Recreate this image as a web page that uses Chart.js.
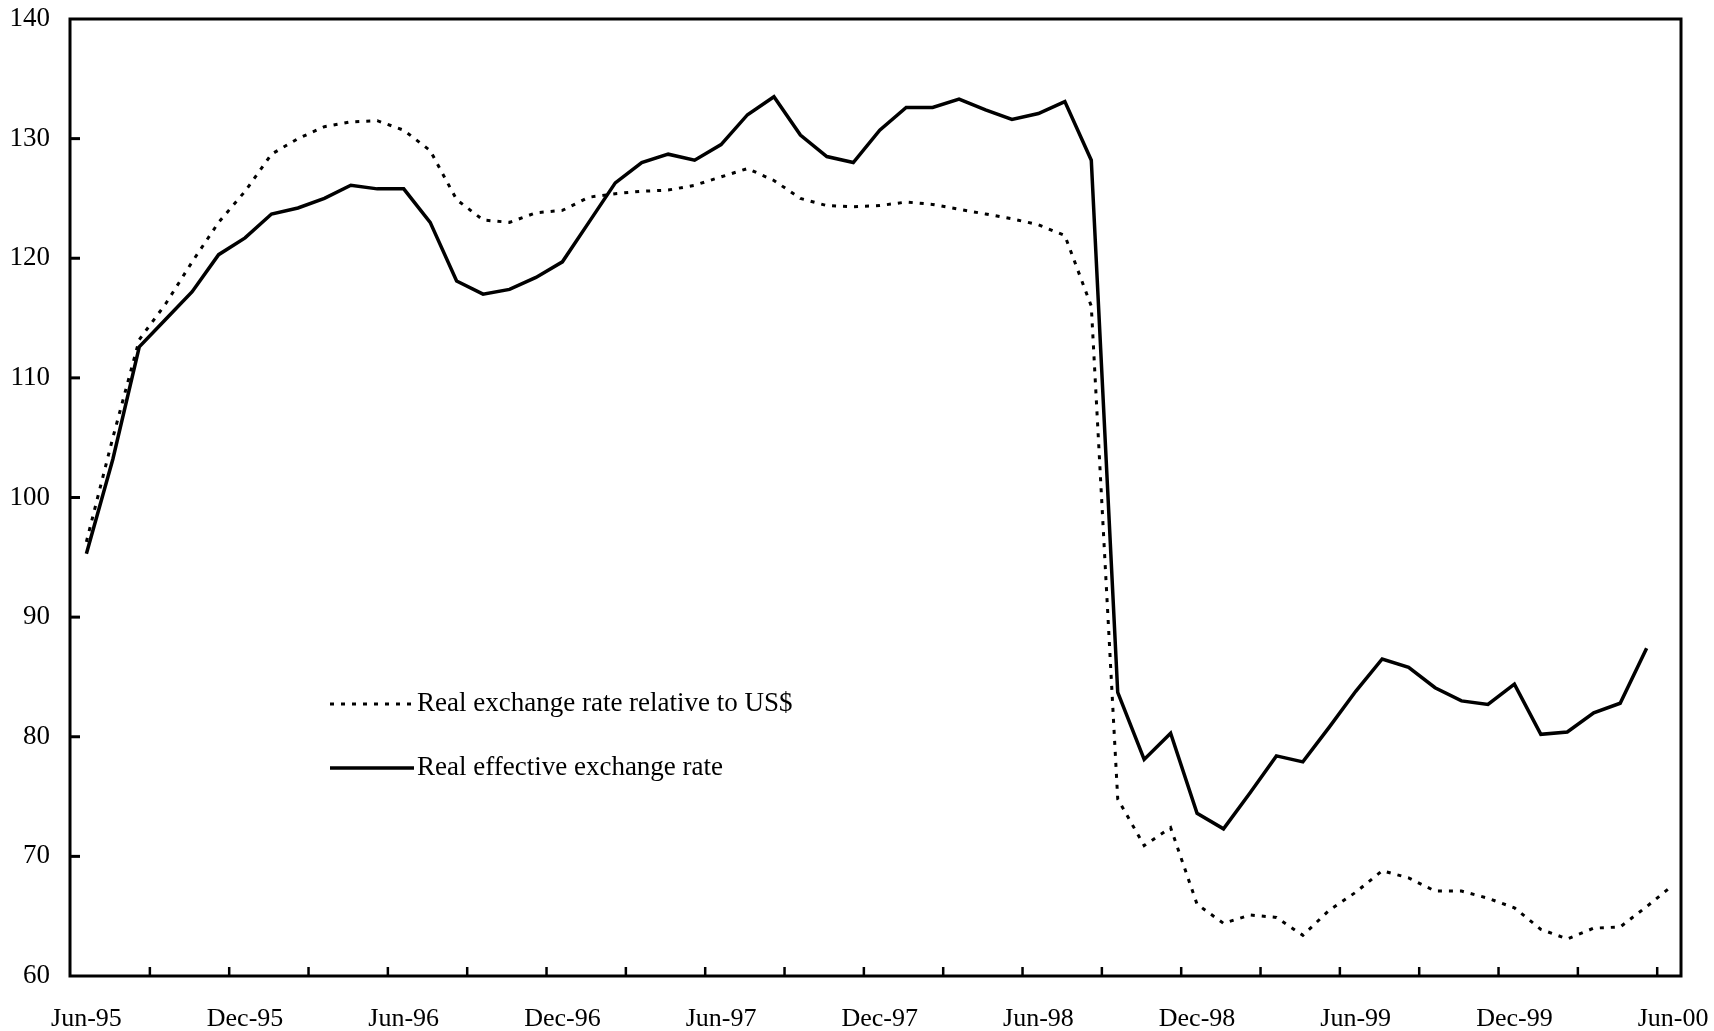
<!DOCTYPE html>
<html>
<head>
<meta charset="utf-8">
<script src="https://cdn.jsdelivr.net/npm/chart.js@4.4.0/dist/chart.umd.min.js"></script>
<style>
html, body { margin: 0; padding: 0; background: #fff; }
#wrap { position: relative; width: 1714px; height: 1031px; }
</style>
</head>
<body>
<div id="wrap"><canvas id="c" width="1714" height="1031"></canvas></div>
<script>
const months = [
  "Jun-95","Jul-95","Aug-95","Sep-95","Oct-95","Nov-95","Dec-95",
  "Jan-96","Feb-96","Mar-96","Apr-96","May-96","Jun-96","Jul-96","Aug-96","Sep-96","Oct-96","Nov-96","Dec-96",
  "Jan-97","Feb-97","Mar-97","Apr-97","May-97","Jun-97","Jul-97","Aug-97","Sep-97","Oct-97","Nov-97","Dec-97",
  "Jan-98","Feb-98","Mar-98","Apr-98","May-98","Jun-98","Jul-98","Aug-98","Sep-98","Oct-98","Nov-98","Dec-98",
  "Jan-99","Feb-99","Mar-99","Apr-99","May-99","Jun-99","Jul-99","Aug-99","Sep-99","Oct-99","Nov-99","Dec-99",
  "Jan-00","Feb-00","Mar-00","Apr-00","May-00","Jun-00"
];

// Real exchange rate relative to US$ (dotted), Jun-95 .. Jun-00
const usdRate = [
  96.3, 105.0, 113.2, 116.2, 119.7, 123.0, 125.6,
  128.7, 130.0, 131.0, 131.4, 131.5, 130.7, 129.0, 124.9, 123.2, 123.0, 123.8, 124.0,
  125.1, 125.4, 125.6, 125.7, 126.1, 126.8, 127.5, 126.5, 125.0, 124.4, 124.3, 124.4,
  124.7, 124.5, 124.1, 123.7, 123.3, 122.8, 121.9, 116.0, 74.8, 70.9, 72.4, 66.0,
  64.4, 65.1, 64.9, 63.4, 65.5, 67.0, 68.8, 68.2, 67.1, 67.1, 66.5, 65.7,
  63.9, 63.1, 64.0, 64.1, 65.8, 67.6
];

// Real effective exchange rate (solid), Jun-95 .. May-00
const effectiveRate = [
  95.3, 103.2, 112.6, 114.9, 117.2, 120.3, 121.7,
  123.7, 124.2, 125.0, 126.1, 125.8, 125.8, 123.0, 118.1, 117.0, 117.4, 118.4, 119.7,
  123.0, 126.3, 128.0, 128.7, 128.2, 129.5, 132.0, 133.5, 130.3, 128.5, 128.0, 130.7,
  132.6, 132.6, 133.3, 132.4, 131.6, 132.1, 133.1, 128.2, 83.7, 78.1, 80.3, 73.6,
  72.3, 75.3, 78.4, 77.9, 80.8, 83.8, 86.5, 85.8, 84.1, 83.0, 82.7, 84.4,
  80.2, 80.4, 82.0, 82.8, 87.4
];

const seriesNames = ["Real exchange rate relative to US$", "Real effective exchange rate"];
const yTickValues = [60, 70, 80, 90, 100, 110, 120, 130, 140];
const labelEvery = 6;

const FONT = "'Liberation Serif', 'Times New Roman', serif";
const toPoints = arr => arr.map((v, i) => ({ x: i, y: v }));

const framePlugin = {
  id: 'frame',
  afterDraw(chart) {
    const { ctx, chartArea: a, scales: { x, y } } = chart;
    ctx.save();
    ctx.strokeStyle = '#000';
    ctx.setLineDash([]);
    ctx.lineWidth = 3;
    ctx.strokeRect(a.left, a.top, a.right - a.left, a.bottom - a.top);
    // inward ticks on the value axis
    y.ticks.forEach(t => {
      if (t.value > y.min && t.value < y.max) {
        const py = y.getPixelForValue(t.value);
        ctx.beginPath(); ctx.moveTo(a.left, py); ctx.lineTo(a.left + 10, py); ctx.stroke();
      }
    });
    // small inward ticks on the category axis (every 3 months)
    ctx.lineWidth = 2.5;
    for (let v = 2.4; v < months.length; v += 3) {
      const px = x.getPixelForValue(v);
      ctx.beginPath(); ctx.moveTo(px, a.bottom); ctx.lineTo(px, a.bottom - 9); ctx.stroke();
    }
    // legend inside the plot area
    const rows = [a.top + 685, a.top + 749];
    const x0 = a.left + 260, x1 = a.left + 344;
    chart.data.datasets.forEach((ds, i) => {
      const ry = rows[i];
      ctx.lineWidth = ds.borderWidth;
      ctx.setLineDash(ds.borderDash || []);
      ctx.beginPath(); ctx.moveTo(x0, ry); ctx.lineTo(x1, ry); ctx.stroke();
      ctx.setLineDash([]);
      ctx.fillStyle = '#000';
      ctx.font = "27px " + FONT;
      ctx.textBaseline = 'middle';
      ctx.textAlign = 'left';
      ctx.fillText(ds.label, x1 + 3, ry);
    });
    ctx.restore();
  }
};

new Chart(document.getElementById('c').getContext('2d'), {
  type: 'line',
  data: {
    datasets: [
      { label: seriesNames[0], data: toPoints(usdRate), borderColor: '#000', borderWidth: 3,
        borderDash: [4, 7], pointRadius: 0, tension: 0, fill: false },
      { label: seriesNames[1], data: toPoints(effectiveRate), borderColor: '#000', borderWidth: 3.5,
        pointRadius: 0, tension: 0, fill: false }
    ]
  },
  options: {
    responsive: false,
    animation: false,
    devicePixelRatio: 1,
    layout: { padding: { top: 19, right: 33, left: 0, bottom: 0 } },
    plugins: { legend: { display: false }, tooltip: { enabled: false } },
    scales: {
      x: {
        type: 'linear', min: -0.62, max: 60.3,
        grid: { display: false, drawTicks: false },
        border: { display: false },
        afterBuildTicks: s => { s.ticks = months.map((m, i) => ({ value: i })).filter(t => t.value % labelEvery === 0); },
        ticks: { callback: v => months[v], font: { family: FONT, size: 26 }, color: '#000',
                 padding: 28, maxRotation: 0, autoSkip: false },
        afterFit: s => { s.height = 55; s.paddingLeft = 0; s.paddingRight = 0; }
      },
      y: {
        min: 60, max: 140,
        afterBuildTicks: s => { s.ticks = yTickValues.map(v => ({ value: v })); },
        ticks: { font: { family: FONT, size: 27 }, color: '#000', padding: 20 },
        grid: { display: false, drawTicks: false },
        border: { display: false },
        afterFit: s => { s.width = 70; s.paddingTop = 0; s.paddingBottom = 0; }
      }
    }
  },
  plugins: [framePlugin]
});
</script>
</body>
</html>
